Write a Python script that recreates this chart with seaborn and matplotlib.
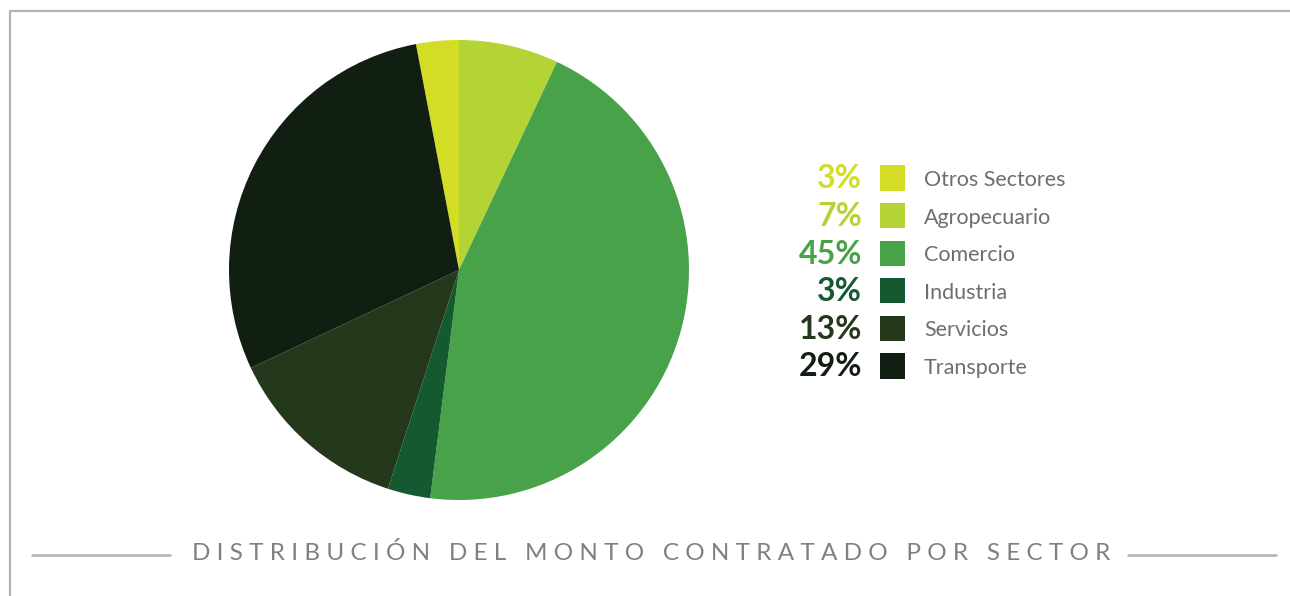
import numpy as np
import pandas as pd
import matplotlib.pyplot as plt
import seaborn as sns
from matplotlib.lines import Line2D

# data (legend order, top to bottom)
sectors = ["Otros Sectores", "Agropecuario", "Comercio", "Industria", "Servicios", "Transporte"]
shares = [3, 7, 45, 3, 13, 29]
colors = ["#d4dd25", "#b4d335", "#47a249", "#155930", "#24391b", "#111e12"]
title = "DISTRIBUCIÓN DEL MONTO CONTRATADO POR SECTOR"

W, H = 1290, 596
sns.set_theme(style="white")
plt.rcParams["font.family"] = ["Lato", "DejaVu Sans"]

fig = plt.figure(figsize=(W / 100, H / 100), dpi=100)
fig.patch.set_facecolor("white")

# gray frame (top and left edges)
frame_col = "#b3b3b3"
fig.add_artist(Line2D([10 / W, 1.0], [1 - 11 / H, 1 - 11 / H], color=frame_col, lw=1.6))
fig.add_artist(Line2D([10 / W, 10 / W], [0.0, 1 - 11 / H], color=frame_col, lw=1.6))

# pie: centre (459, 270), radius 230 px
cx, cy, r = 459, 270, 230
ax = fig.add_axes([(cx - r) / W, 1 - (cy + r) / H, 2 * r / W, 2 * r / H])
start = 90 + 360 * shares[0] / sum(shares)
ax.pie(shares, colors=colors, startangle=start, counterclock=False,
       wedgeprops={"linewidth": 0})
ax.set_xlim(-1, 1)
ax.set_ylim(-1, 1)
ax.set_axis_off()

# legend: squares drawn with seaborn in pixel-like coords
leg = pd.DataFrame({"sector": sectors, "share": shares, "row": np.arange(len(sectors))})
lax = fig.add_axes([0, 0, 1, 1])
lax.set_xlim(0, W)
lax.set_ylim(H, 0)
lax.set_axis_off()
row_y = 178 + 37.6 * leg["row"]
sns.scatterplot(x=np.full(len(leg), 892.5), y=row_y, hue=leg["sector"],
                palette=dict(zip(sectors, colors)), marker="s", s=330,
                linewidth=0, legend=False, ax=lax)
for (_, rw), y, c in zip(leg.iterrows(), row_y, colors):
    lax.text(862, y + 1, f"{rw['share']}%", ha="right", va="center",
             fontsize=23, fontweight="bold", color=c)
    lax.text(924, y + 2, rw["sector"], ha="left", va="center",
             fontsize=15.5, color="#6d6e70")

# title with wide letter spacing and side rules
lax.text(651, 553, " ".join(title), ha="center", va="center",
         fontsize=17.5, fontweight="normal", color="#808080")
lax.plot([32, 170], [555, 555], color=frame_col, lw=1.8)
lax.plot([1128, 1276], [555, 555], color=frame_col, lw=1.8)

fig.savefig("out.png", dpi=100, facecolor="white")
